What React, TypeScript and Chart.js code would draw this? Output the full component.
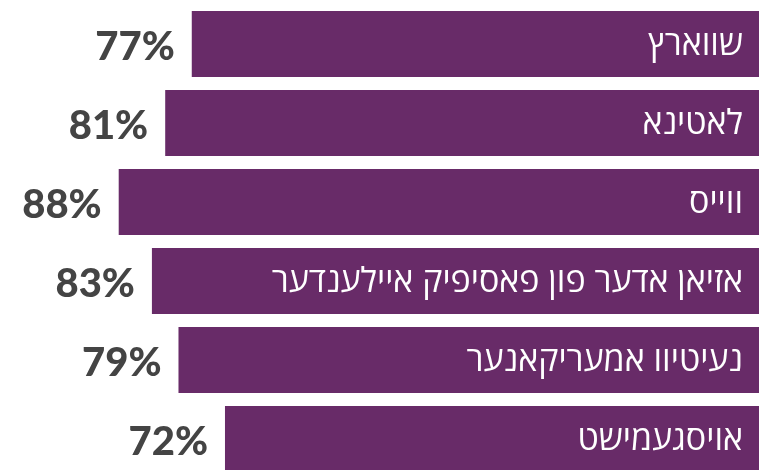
import React, { useEffect, useRef } from "react";
import { Chart, registerables } from "chart.js";

Chart.register(...registerables);

const categories = [
  "שווארץ",
  "לאטינא",
  "ווייס",
  "אזיאן אדער פון פאסיפיק איילענדער",
  "נעיטיוו אמעריקאנער",
  "אויסגעמישט",
];
const values = [77, 81, 88, 83, 79, 72];
const AXIS_MIN = -8.4;
const AXIS_MAX = 100;

const BAR_COLOR = "#682b68";
const PCT_COLOR = "#444444";

const labelPlugin = {
  id: "barLabels",
  afterDatasetsDraw(chart: any) {
    const ctx = chart.ctx;
    const meta = chart.getDatasetMeta(0);
    const area = chart.chartArea;
    ctx.save();
    meta.data.forEach((bar: any, i: number) => {
      const left = Math.min(bar.x, bar.base);
      ctx.textBaseline = "middle";
      ctx.textAlign = "right";
      ctx.fillStyle = PCT_COLOR;
      ctx.font = "900 40px Lato, Roboto, 'Liberation Sans', sans-serif";
      ctx.fillText(values[i] + "%", left - 17, bar.y + 3);
      ctx.fillStyle = "#ffffff";
      ctx.font = "34px 'Open Sans', 'Noto Sans', 'DejaVu Sans', sans-serif";
      ctx.fillText(categories[i], area.right - 16, bar.y + 1);
    });
    ctx.restore();
  },
};

export default function App() {
  const ref = useRef<HTMLCanvasElement | null>(null);
  useEffect(() => {
    if (!ref.current) return;
    const chart = new Chart(ref.current, {
      type: "bar",
      data: {
        labels: categories,
        datasets: [
          {
            data: values,
            base: AXIS_MIN,
            backgroundColor: BAR_COLOR,
            barPercentage: 0.835,
            categoryPercentage: 1,
            borderWidth: 0,
          } as any,
        ],
      },
      options: {
        indexAxis: "y",
        animation: false,
        responsive: false,
        maintainAspectRatio: false,
        layout: { padding: { left: 39, right: 0, top: 4.5, bottom: 4.5 } },
        plugins: { legend: { display: false }, tooltip: { enabled: false } },
        scales: {
          x: { type: "linear", min: AXIS_MIN, max: AXIS_MAX, reverse: true, display: false },
          y: { type: "category", display: false, offset: true },
        },
      },
      plugins: [labelPlugin],
    });
    return () => chart.destroy();
  }, []);
  return (
    <div style={{ position: "fixed", left: 0, top: 0, width: 759, height: 483, background: "#fff" }}>
      <canvas ref={ref} width={759} height={483} style={{ width: 759, height: 483 }} />
    </div>
  );
}
